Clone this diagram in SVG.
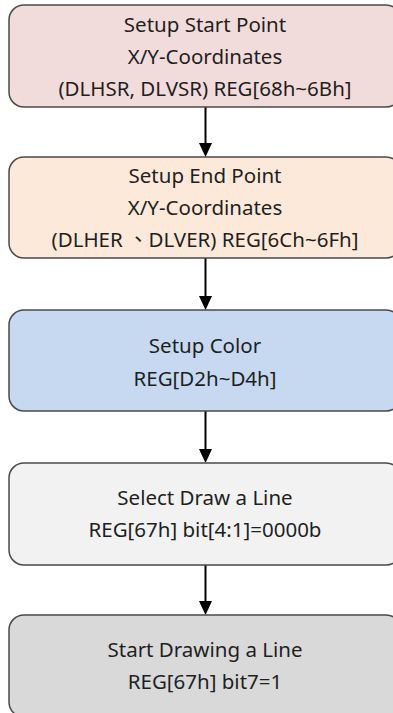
<svg xmlns="http://www.w3.org/2000/svg" width="393" height="713" viewBox="0 0 393 713">
<style>
.box{stroke:#4a4a4a;stroke-width:1.5}
.t{font-family:"Noto Sans","Open Sans","Liberation Sans","Noto Sans CJK TC",sans-serif;font-size:20.5px;fill:#1f1f1f;text-anchor:middle}
.c{stroke:#000;stroke-width:2;fill:none}
.ah{fill:#000}
</style>
<rect width="393" height="713" fill="#fff"/>
<g id="connectors">
<line class="c" x1="205.5" y1="107" x2="205.5" y2="143"/><path class="ah" d="M199,143 L212,143 L205.5,157 Z"/>
<line class="c" x1="205.5" y1="258" x2="205.5" y2="296"/><path class="ah" d="M199,296 L212,296 L205.5,310 Z"/>
<line class="c" x1="205.5" y1="411" x2="205.5" y2="449"/><path class="ah" d="M199,449 L212,449 L205.5,463 Z"/>
<line class="c" x1="205.5" y1="565" x2="205.5" y2="601"/><path class="ah" d="M199,601 L212,601 L205.5,615 Z"/>
</g>
<g id="n1">
<rect class="box" x="9" y="5" width="392" height="102" rx="15" fill="#f2dcdb"/>
<text class="t" x="205" y="32">Setup Start Point</text>
<text class="t" x="205" y="64">X/Y-Coordinates</text>
<text class="t" x="205" y="96">(DLHSR, DLVSR) REG[68h~6Bh]</text>
</g>
<g id="n2">
<rect class="box" x="9" y="157" width="392" height="101" rx="15" fill="#fde9d9"/>
<text class="t" x="205" y="183">Setup End Point</text>
<text class="t" x="205" y="215">X/Y-Coordinates</text>
<text class="t" x="205" y="247">(DLHER 、DLVER) REG[6Ch~6Fh]</text>
</g>
<g id="n3">
<rect class="box" x="9" y="310" width="392" height="101" rx="15" fill="#c6d9f0"/>
<text class="t" x="205" y="353">Setup Color</text>
<text class="t" x="205" y="386">REG[D2h~D4h]</text>
</g>
<g id="n4">
<rect class="box" x="9" y="463" width="392" height="102" rx="15" fill="#f2f2f2"/>
<text class="t" x="205" y="505">Select Draw a Line</text>
<text class="t" x="205" y="537">REG[67h] bit[4:1]=0000b</text>
</g>
<g id="n5">
<rect class="box" x="9" y="615" width="392" height="102" rx="15" fill="#d9d9d9"/>
<text class="t" x="205" y="657">Start Drawing a Line</text>
<text class="t" x="205" y="689">REG[67h] bit7=1</text>
</g>
</svg>
